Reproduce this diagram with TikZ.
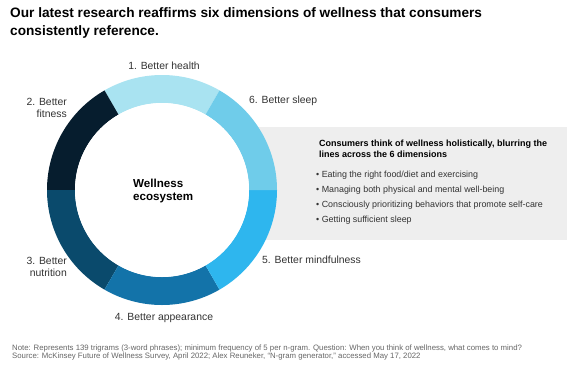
\documentclass[tikz,border=0pt]{standalone}
\usepackage{fontspec}
\setmainfont{Liberation Sans}
\usetikzlibrary{calc}
\definecolor{cA}{HTML}{A9E3F1}
\definecolor{cB}{HTML}{061D2E}
\definecolor{cC}{HTML}{0A4A6C}
\definecolor{cD}{HTML}{1373A9}
\definecolor{cE}{HTML}{2EB6EE}
\definecolor{cF}{HTML}{6FCCEA}
\definecolor{boxgray}{HTML}{EEEEEE}
\definecolor{labgray}{HTML}{333333}
\definecolor{notegray}{HTML}{666666}
\begin{document}
\begin{tikzpicture}[x=1pt,y=-1pt,
  seglabel/.style={font=\fontsize{10.4}{12.5}\selectfont,text=labgray,inner sep=0pt},
  bul/.style={font=\fontsize{8.9}{10}\selectfont,text=labgray,anchor=west,inner sep=0pt},
  notetext/.style={font=\fontsize{7.8}{8}\selectfont,text=notegray,anchor=west,inner sep=0pt}]
\useasboundingbox (0,0) rectangle (567,365);
\fill[white] (0,0) rectangle (567,365);
% grey box
\fill[boxgray] (255,127) rectangle (567,240);
% ring
\coordinate (c) at (162,190);
\def\R{115}\def\r{87}
\foreach \a/\b/\col in {240/300/cA,180/240/cB,120/180/cC,60/120/cD,0/60/cE,300/360/cF}{
  \fill[\col] ($(c)+(\a:\R)$) arc[start angle=\a,end angle=\b,radius=\R]
     -- ($(c)+(\b:\r)$) arc[start angle=\b,end angle=\a,radius=\r] -- cycle;
}
\fill[white] (c) circle (\r);
% title
\node[anchor=west,inner sep=0pt,font=\fontsize{13.65}{17}\selectfont\bfseries] (t1) at (10,13) {Our latest research reaffirms six dimensions of wellness that consumers};
\node[anchor=west,inner sep=0pt,font=\fontsize{13.65}{17}\selectfont\bfseries] (t2) at (10,32) {consistently reference.};
% centre
\node[anchor=west,inner sep=0pt,align=left,font=\fontsize{11.6}{13.5}\selectfont\bfseries] (ctr) at (133,191) {Wellness\\ecosystem};
% labels
\node[seglabel] (l1) at (164,66) {1. Better health};
\node[seglabel,anchor=east,align=right] (l2) at (67,108) {2. Better\\fitness};
\node[seglabel,anchor=west] (l6) at (249,101) {6. Better sleep};
\node[seglabel,anchor=east,align=right] (l3) at (67,267) {3. Better\\nutrition};
\node[seglabel,anchor=west] (l5) at (262,260) {5. Better mindfulness};
\node[seglabel] (l4) at (164,318) {4. Better appearance};
% box text
\node[anchor=west,inner sep=0pt,align=left,font=\fontsize{9}{11}\selectfont\bfseries] (bh) at (319,149) {Consumers think of wellness holistically, blurring the\\lines across the 6 dimensions};
\node[bul] (b1) at (316,175) {\textbullet\ Eating the right food/diet and exercising};
\node[bul] (b2) at (316,190) {\textbullet\ Managing both physical and mental well-being};
\node[bul] (b3) at (316,205) {\textbullet\ Consciously prioritizing behaviors that promote self-care};
\node[bul] (b4) at (316,220) {\textbullet\ Getting sufficient sleep};
% notes
\node[notetext] (n1) at (12,348) {Note: Represents 139 trigrams (3-word phrases); minimum frequency of 5 per n-gram. Question: When you think of wellness, what comes to mind?};
\node[notetext] (n2) at (12,356) {Source: McKinsey Future of Wellness Survey, April 2022; Alex Reuneker, “N-gram generator,” accessed May 17, 2022};
\end{tikzpicture}
\end{document}
